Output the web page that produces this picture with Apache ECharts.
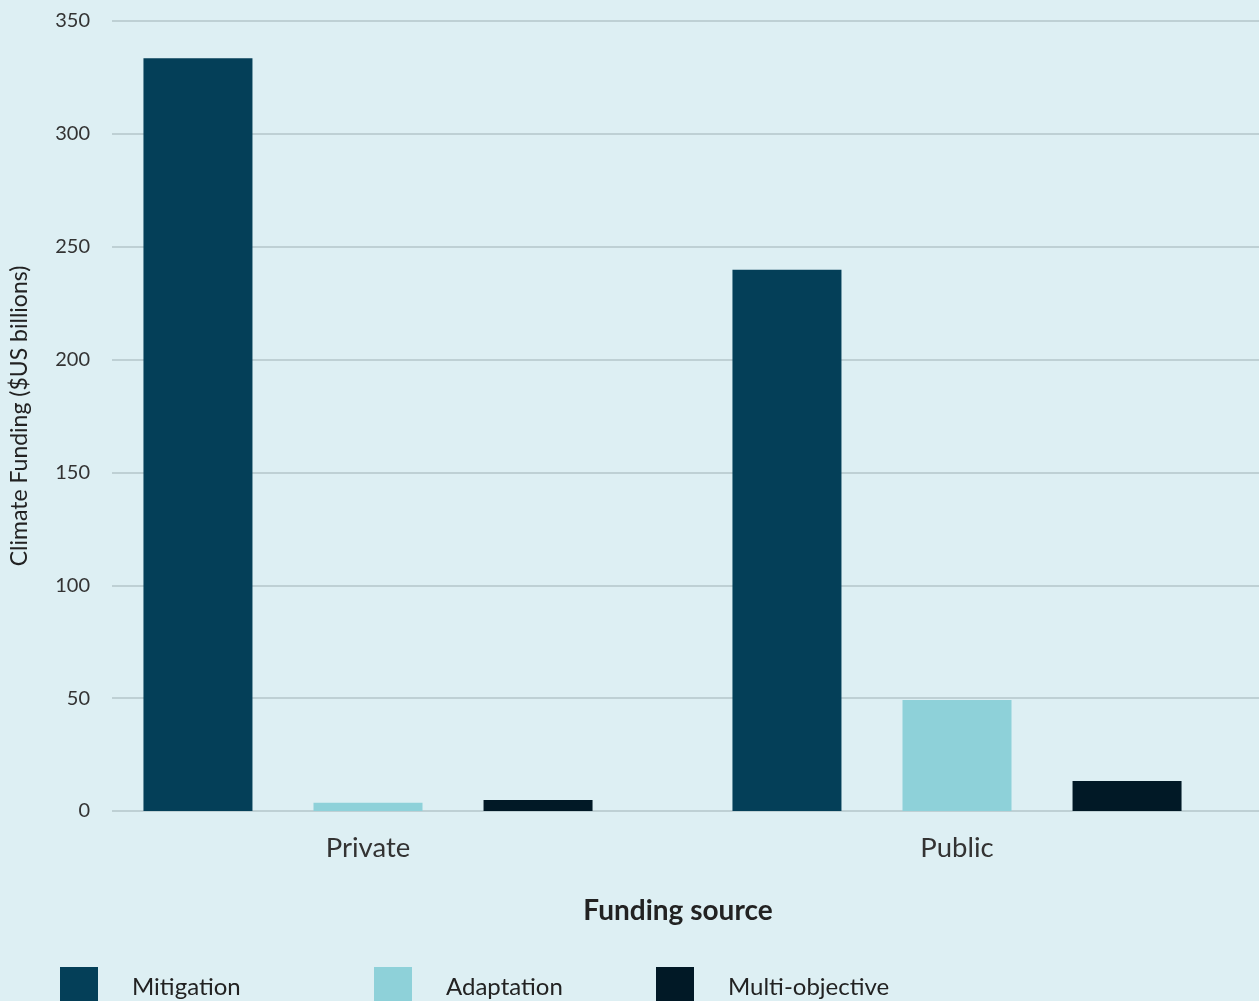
<!DOCTYPE html>
<html><head><meta charset="utf-8">
<script src="https://cdn.jsdelivr.net/npm/echarts@6/dist/echarts.min.js"></script>
<style>html,body{margin:0;padding:0;background:#ddeff3}#c{width:1259px;height:1001px}</style>
</head><body><div id="c"></div>
<script>
const categories = ['Private', 'Public'];
const mitigation = [333.5, 239.8];
const adaptation = [3.6, 49.2];
const multiObjective = [4.9, 13.3];
const seriesNames = ['Mitigation', 'Adaptation', 'Multi-objective'];
const colors = ['#043f58', '#8ed1d9', '#011926'];
const yTicks = {min: 0, max: 350, interval: 50};

const chart = echarts.init(document.getElementById('c'));
const font = 'Lato, "Noto Sans", sans-serif';
const legendBase = (name, left) => ({
  data: [name], left: left, top: 967, padding: 0, itemWidth: 38, itemHeight: 40, icon: 'rect',
  selectedMode: false,
  textStyle: {fontFamily: font, fontSize: 24, color: '#222', padding: [0, 0, 0, 29]}
});
chart.setOption({
  backgroundColor: '#ddeff3',
  animation: false,
  grid: [
    {left: 108, right: 0, top: 21, bottom: 190},
    {left: 73.5, right: 7.5, top: 21, bottom: 190}
  ],
  legend: [legendBase('Mitigation', 60), legendBase('Adaptation', 374), legendBase('Multi-objective', 656)],
  xAxis: [
    {gridIndex: 0, type: 'category', data: categories, show: false},
    {gridIndex: 1, type: 'category', data: categories,
     name: 'Funding source', nameLocation: 'middle', nameGap: 86,
     nameTextStyle: {fontFamily: font, fontSize: 28, fontWeight: 'bold', color: '#222', padding: [0, 0, 0, 31]},
     axisLine: {show: false}, axisTick: {show: false},
     axisLabel: {fontFamily: font, fontSize: 27.5, color: '#333', margin: 23}}
  ],
  yAxis: [
    {gridIndex: 0, type: 'value', min: yTicks.min, max: yTicks.max, interval: yTicks.interval,
     name: 'Climate Funding ($US billions)', nameLocation: 'middle', nameGap: 81,
     nameTextStyle: {fontFamily: font, fontSize: 23, color: '#222'},
     axisLine: {show: false}, axisTick: {show: false},
     axisLabel: {fontFamily: font, fontSize: 20, color: '#333', margin: 22},
     splitLine: {lineStyle: {color: '#b3c6ca', width: 1.5}}},
    {gridIndex: 1, type: 'value', min: yTicks.min, max: yTicks.max, interval: yTicks.interval, show: false}
  ],
  series: [
    {name: seriesNames[0], type: 'bar', xAxisIndex: 1, yAxisIndex: 1, data: mitigation, barWidth: 109, barGap: '56%', itemStyle: {color: colors[0]}},
    {name: seriesNames[1], type: 'bar', xAxisIndex: 1, yAxisIndex: 1, data: adaptation, barWidth: 109, barGap: '56%', itemStyle: {color: colors[1]}},
    {name: seriesNames[2], type: 'bar', xAxisIndex: 1, yAxisIndex: 1, data: multiObjective, barWidth: 109, barGap: '56%', itemStyle: {color: colors[2]}}
  ]
});
</script></body></html>
